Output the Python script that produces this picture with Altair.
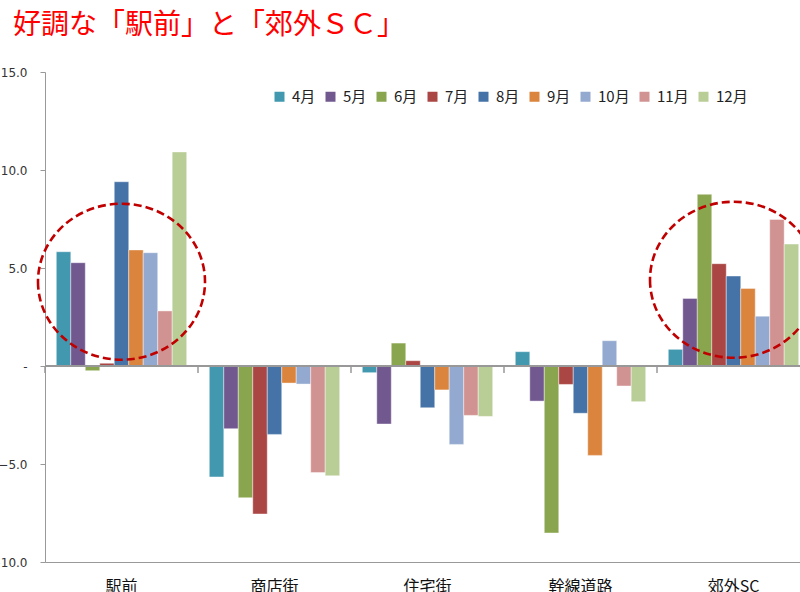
import altair as alt
import pandas as pd

categories = ["駅前", "商店街", "住宅街", "幹線道路", "郊外SC"]
months = ["4月", "5月", "6月", "7月", "8月", "9月", "10月", "11月", "12月"]
colors = ["#4198AF", "#71588F", "#89A54E", "#AA4643", "#4572A7",
          "#DB843D", "#93A9CF", "#D19392", "#B9CD96"]

v_apr = [5.83, -5.66, -0.34, 0.73, 0.85]
v_may = [5.27, -3.20, -2.96, -1.79, 3.45]
v_jun = [-0.24, -6.72, 1.17, -8.52, 8.76]
v_jul = [0.14, -7.55, 0.27, -0.94, 5.22]
v_aug = [9.40, -3.49, -2.13, -2.41, 4.59]
v_sep = [5.92, -0.87, -1.22, -4.56, 3.96]
v_oct = [5.78, -0.92, -4.00, 1.29, 2.54]
v_nov = [2.81, -5.44, -2.52, -1.02, 7.48]
v_dec = [10.92, -5.60, -2.57, -1.82, 6.22]
series = [v_apr, v_may, v_jun, v_jul, v_aug, v_sep, v_oct, v_nov, v_dec]

highlight_cats = ["駅前", "郊外SC"]
highlight_y = [4.3, 4.4]

y_ticks = [-10, -5, 0, 5, 10, 15]

rows = []
for m, vals in zip(months, series):
    for c, v in zip(categories, vals):
        rows.append({"cat": c, "month": m, "value": v})
df = pd.DataFrame(rows)
df_hl = pd.DataFrame({"cat": highlight_cats, "y": highlight_y})
df_cat = pd.DataFrame({"cat": categories})

x_scale = alt.Scale(domain=categories, range=[0, 765], paddingInner=0, paddingOuter=0)
y_scale = alt.Scale(domain=[-10, 15], nice=False, zero=False)

bars = alt.Chart(df).mark_bar(stroke="white", strokeWidth=0.6, strokeOpacity=0.7).encode(
    x=alt.X("cat:N", scale=x_scale, sort=categories, title=None,
            axis=alt.Axis(orient="bottom", domainColor="#999999", ticks=False,
                          labelAngle=0, labelFont="Noto Sans CJK JP", labelFontSize=16,
                          labelColor="#111111", labelPadding=16, labelBaseline="top")),
    xOffset=alt.XOffset("month:N", sort=months, scale=alt.Scale(paddingOuter=0.78, paddingInner=0)),
    y=alt.Y("value:Q", scale=y_scale, title=None,
            axis=alt.Axis(values=y_ticks, grid=False, domainColor="#999999", tickColor="#999999",
                          tickSize=5, labelPadding=13, labelFont="DejaVu Sans", labelFontSize=12,
                          labelColor="#333333",
                          labelExpr="datum.value == 0 ? '-' : format(datum.value, '.1f')")),
    color=alt.Color("month:N", sort=months, scale=alt.Scale(domain=months, range=colors),
                    legend=alt.Legend(title=None, orient="none", legendX=227, legendY=17,
                                      direction="horizontal", columns=9, symbolType="square",
                                      symbolSize=100, symbolStrokeWidth=0, labelFont="Noto Sans CJK JP",
                                      labelFontSize=15, labelColor="#222222", columnPadding=7,
                                      labelOffset=5)),
)

zero_line = alt.Chart(df_cat).mark_rule(color="#999999", strokeWidth=1.5).encode(
    y=alt.datum(0),
)

boundary_ticks = alt.Chart(df_cat).mark_rule(color="#999999", strokeWidth=1.5).encode(
    x=alt.X("cat:N", scale=x_scale, sort=categories, bandPosition=0),
    y=alt.datum(0),
    y2=alt.datum(-0.36),
)

ellipses = alt.Chart(df_hl).mark_point(
    shape="M -1 0 A 1 0.934 0 1 0 1 0 A 1 0.934 0 1 0 -1 0",
    size=27889, filled=False, color="#C00000", strokeWidth=2.6, strokeDash=[8, 4], opacity=1,
).encode(
    x=alt.X("cat:N", scale=x_scale, sort=categories),
    y=alt.Y("y:Q", scale=y_scale),
)

chart = alt.layer(bars, zero_line, boundary_ticks, ellipses).properties(
    width=755, height=490,
    title=alt.TitleParams("好調な「駅前」と「郊外ＳＣ」", anchor="start", frame="group",
                          dx=-32, offset=26, font="Noto Sans CJK JP", fontSize=28,
                          fontWeight="normal", color="#FF0000"),
    autosize=alt.AutoSizeParams(type="none"),
    padding={"left": 45, "top": 72, "right": 0, "bottom": 30},
).configure_view(stroke=None)

chart.save("out.html", embed_options={"renderer": "svg", "actions": False})
